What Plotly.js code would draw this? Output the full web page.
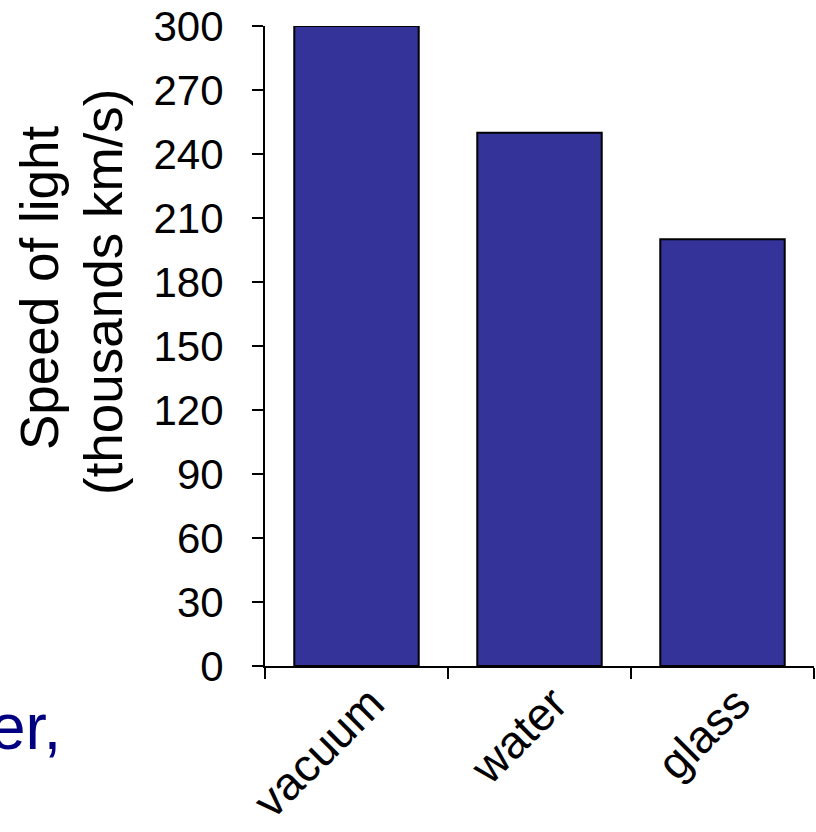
<!DOCTYPE html>
<html>
<head>
<meta charset="utf-8">
<script src="https://cdn.plot.ly/plotly-3.0.1.min.js"></script>
<style>html,body{margin:0;padding:0;background:#fff;}#chart{width:816px;height:832px;}</style>
</head>
<body>
<div id="chart"></div>
<script>
const categories = ["vacuum", "water", "glass"];
const speeds = [300, 250, 200];
const yTickValues = [0, 30, 60, 90, 120, 150, 180, 210, 240, 270, 300];
const yTitleLines = ["Speed of light", "(thousands km/s)"];
const fragmentText = "er,";

const font = "Liberation Sans, Arial, sans-serif";

const data = [{
  type: "bar",
  x: categories,
  y: speeds,
  marker: {color: "#333399", line: {color: "#000000", width: 2}},
  hoverinfo: "x+y"
}];

const layout = {
  width: 816,
  height: 832,
  margin: {l: 265, r: 2, t: 26, b: 166, pad: 0},
  paper_bgcolor: "#ffffff",
  plot_bgcolor: "#ffffff",
  showlegend: false,
  bargap: 0.32,
  font: {family: font, color: "#000000"},
  xaxis: {
    type: "category",
    range: [-0.5, 2.5],
    showline: true, linecolor: "#000", linewidth: 2,
    ticks: "outside", ticklen: 11, tickwidth: 2, tickcolor: "#000",
    tickson: "boundaries",
    tickangle: -45,
    ticklabelshift: 14,
    ticklabelstandoff: -10,
    tickfont: {family: font, size: 46, color: "#000"},
    showgrid: false, zeroline: false, automargin: false
  },
  yaxis: {
    range: [0, 300],
    tickvals: yTickValues,
    showline: true, linecolor: "#000", linewidth: 2,
    ticks: "outside", ticklen: 11, tickwidth: 2, tickcolor: "#000",
    ticklabelstandoff: 20,
    tickfont: {family: font, size: 42, color: "#000"},
    showgrid: false, zeroline: false, automargin: false
  },
  annotations: [
    {
      text: yTitleLines[0],
      xref: "paper", yref: "paper",
      x: -0.4117, y: 0.5906,
      xanchor: "center", yanchor: "middle",
      textangle: -90, showarrow: false,
      font: {family: font, size: 53, color: "#000"}
    },
    {
      text: yTitleLines[1],
      xref: "paper", yref: "paper",
      x: -0.2932, y: 0.5844,
      xanchor: "center", yanchor: "middle",
      textangle: -90, showarrow: false,
      font: {family: font, size: 53, color: "#000"}
    },
    {
      text: fragmentText,
      xref: "paper", yref: "paper",
      x: -0.368, y: -0.095,
      xanchor: "right", yanchor: "middle",
      showarrow: false,
      font: {family: font, size: 64, color: "#000080"}
    }
  ]
};

Plotly.newPlot("chart", data, layout, {displayModeBar: false, staticPlot: true});
</script>
</body>
</html>
